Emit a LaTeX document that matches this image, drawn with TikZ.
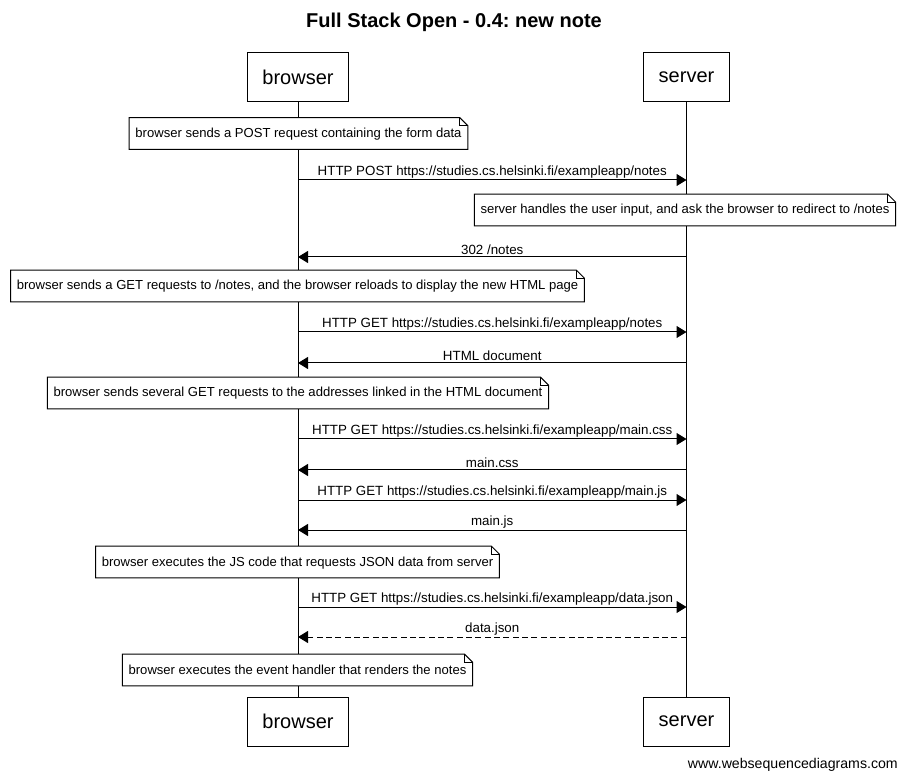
\documentclass[tikz,border=0pt]{standalone}
\usepackage{fontspec}
\setmainfont{Liberation Sans}
\frenchspacing
\usetikzlibrary{arrows.meta}

\tikzset{
    actor/.style={draw, fill=white, line width=0.75pt, inner xsep=11.25pt,
        minimum height=36.75pt, font=\fontsize{15}{18}\selectfont},
    note/.style={inner xsep=4.5pt, minimum height=23.25pt, text height=7pt, text depth=1pt,
        font=\fontsize{9.8}{11}\selectfont},
    msg/.style={-{Triangle[length=7.5pt, width=9pt]}, line width=0.75pt},
    reply/.style={msg, dash pattern=on 4.5pt off 2.5pt},
    lbl/.style={midway, above, inner sep=1.2pt, font=\fontsize{10}{12}\selectfont}
}

% note with a folded corner, drawn round a named node
\newcommand{\foldnote}[1]{%
    \draw[line width=0.75pt, fill=white]
        (#1.north west) -- ([xshift=-6pt]#1.north east) -- ([yshift=-6pt]#1.north east)
        -- (#1.south east) -- (#1.south west) -- cycle;
    \draw[line width=0.75pt] ([xshift=-6pt]#1.north east) -- ([xshift=-6pt, yshift=-6pt]#1.north east)
        -- ([yshift=-6pt]#1.north east);
}

\begin{document}
\begin{tikzpicture}[x=0.75pt, y=-0.75pt]
    \useasboundingbox (0,0) rectangle (907,780);

    % Title
    \node[font=\bfseries\fontsize{15}{18}\selectfont] (title) at (454,22) {Full Stack Open - 0.4: new note};

    % Participants, top and bottom
    \node[actor] (browser) at (298,77.5) {browser};
    \node[actor] (server) at (686.5,77.5) {server};
    \node[actor] (browserend) at (298,721.5) {browser};
    \node[actor] (serverend) at (686.5,721.5) {server};

    % Lifelines
    \draw[line width=0.75pt] (browser.south) -- (browserend.north);
    \draw[line width=0.75pt] (server.south) -- (serverend.north);

    % Rows of the messages
    \coordinate (m1) at (0,180);
    \coordinate (m2) at (0,257);
    \coordinate (m3) at (0,332);
    \coordinate (m4) at (0,363);
    \coordinate (m5) at (0,439);
    \coordinate (m6) at (0,470);
    \coordinate (m7) at (0,500);
    \coordinate (m8) at (0,530);
    \coordinate (m9) at (0,607);
    \coordinate (m10) at (0,637);

    % Notes
    \node[note] (n1) at (298.5,133.5) {browser sends a POST request containing the form data};
    \foldnote{n1}
    \node[note] at (n1) {browser sends a POST request containing the form data};

    \node[note] (n2) at (685,210) {server handles the user input, and ask the browser to redirect to /notes};
    \foldnote{n2}
    \node[note] at (n2) {server handles the user input, and ask the browser to redirect to /notes};

    \node[note] (n3) at (297.5,286) {browser sends a GET requests to /notes, and the browser reloads to display the new HTML page};
    \foldnote{n3}
    \node[note] at (n3) {browser sends a GET requests to /notes, and the browser reloads to display the new HTML page};

    \node[note] (n4) at (298,393) {browser sends several GET requests to the addresses linked in the HTML document};
    \foldnote{n4}
    \node[note] at (n4) {browser sends several GET requests to the addresses linked in the HTML document};

    \node[note] (n5) at (297.5,562) {browser executes the JS code that requests JSON data from server};
    \foldnote{n5}
    \node[note] at (n5) {browser executes the JS code that requests JSON data from server};

    \node[note] (n6) at (297.5,670) {browser executes the event handler that renders the notes};
    \foldnote{n6}
    \node[note] at (n6) {browser executes the event handler that renders the notes};

    % Messages
    \draw[msg] (browser |- m1) -- (server |- m1) node[lbl] {HTTP POST https://studies.cs.helsinki.fi/exampleapp/notes};
    \draw[msg] (server |- m2) -- (browser |- m2) node[lbl] {302 /notes};
    \draw[msg] (browser |- m3) -- (server |- m3) node[lbl] {HTTP GET https://studies.cs.helsinki.fi/exampleapp/notes};
    \draw[msg] (server |- m4) -- (browser |- m4) node[lbl] {HTML document};
    \draw[msg] (browser |- m5) -- (server |- m5) node[lbl] {HTTP GET https://studies.cs.helsinki.fi/exampleapp/main.css};
    \draw[msg] (server |- m6) -- (browser |- m6) node[lbl] {main.css};
    \draw[msg] (browser |- m7) -- (server |- m7) node[lbl] {HTTP GET https://studies.cs.helsinki.fi/exampleapp/main.js};
    \draw[msg] (server |- m8) -- (browser |- m8) node[lbl] {main.js};
    \draw[msg] (browser |- m9) -- (server |- m9) node[lbl] {HTTP GET https://studies.cs.helsinki.fi/exampleapp/data.json};
    \draw[reply] (server |- m10) -- (browser |- m10) node[lbl] {data.json};

    % Footer
    \node[anchor=east, inner sep=0pt, font=\fontsize{10.6}{12}\selectfont] (footer) at (898,765) {www.websequencediagrams.com};
\end{tikzpicture}
\end{document}
